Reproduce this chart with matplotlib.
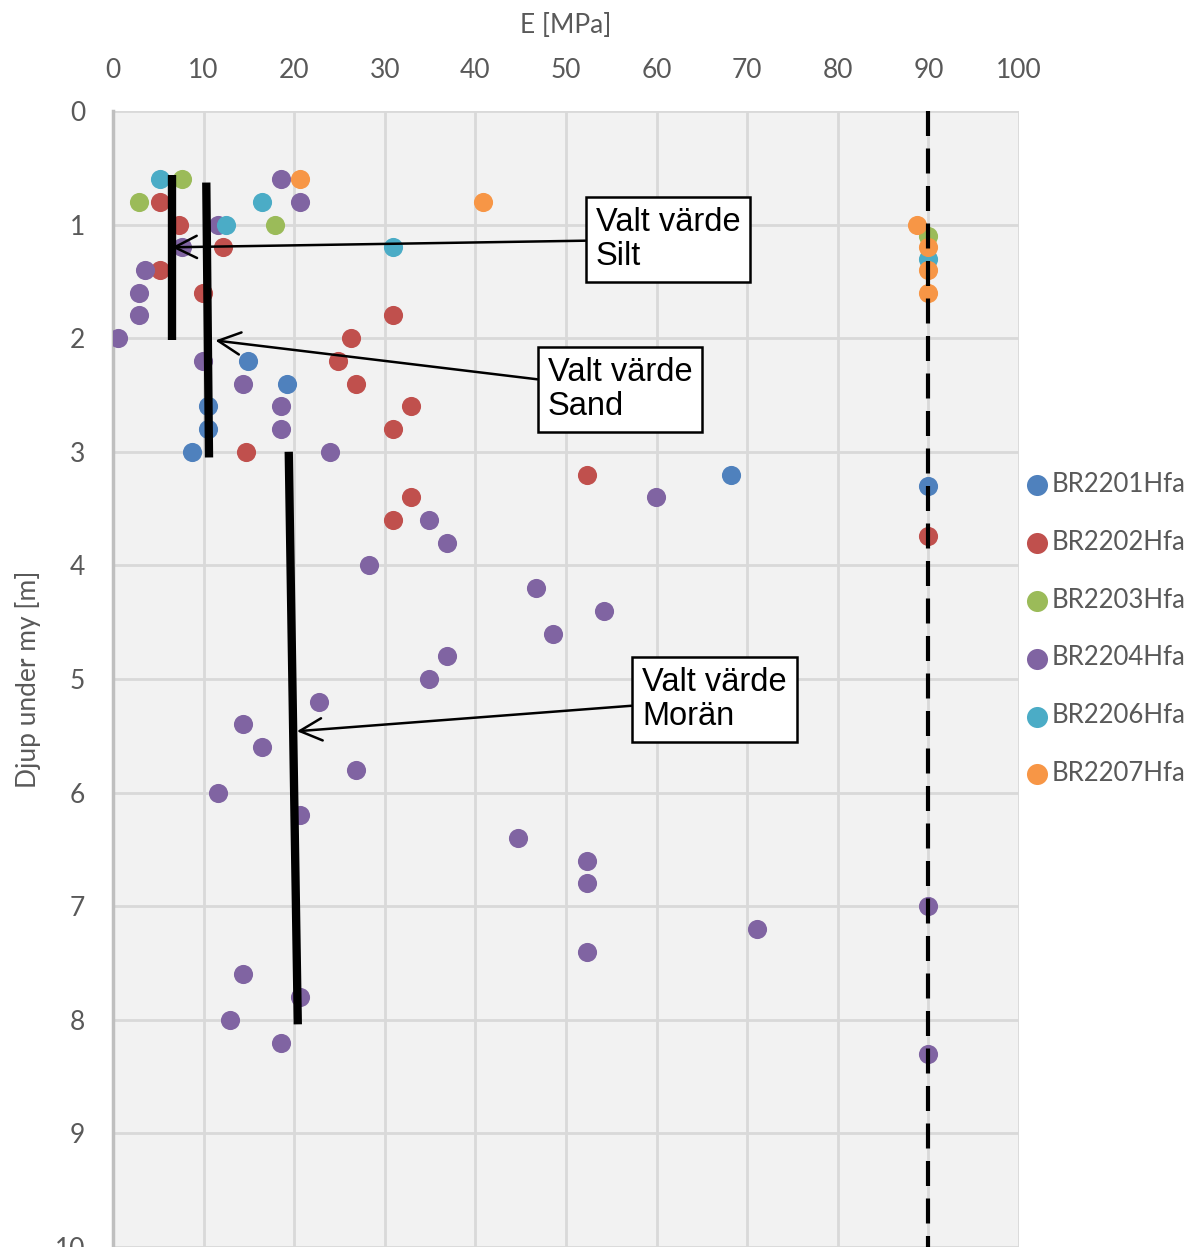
import matplotlib
matplotlib.use('Agg')
import matplotlib.pyplot as plt

plt.rcParams['font.family'] = ['Lato', 'DejaVu Sans']

# E [MPa] and depth [m] per borehole
br01_e = [14.9, 19.2, 10.5, 10.5, 8.7, 68.2, 90]
br01_d = [2.2, 2.4, 2.6, 2.8, 3.0, 3.2, 3.3]
br02_e = [5.2, 7.3, 12.1, 5.2, 9.9, 30.9, 26.3, 24.8, 26.8, 32.9, 30.9, 14.7, 52.3, 32.9, 30.9, 90]
br02_d = [0.8, 1.0, 1.2, 1.4, 1.6, 1.8, 2.0, 2.2, 2.4, 2.6, 2.8, 3.0, 3.2, 3.4, 3.6, 3.74]
br03_e = [7.6, 2.9, 17.9, 90]
br03_d = [0.6, 0.8, 1.0, 1.1]
br04_e = [18.5, 20.6, 11.6, 7.6, 3.5, 2.9, 2.9, 0.6, 9.9, 14.3, 18.5, 18.5, 24.0,
          59.9, 34.9, 36.9, 28.3, 46.7, 54.2, 48.6, 36.9, 34.9, 22.7, 14.3, 16.4,
          26.8, 11.6, 20.6, 44.7, 52.3, 52.3, 90, 71.1, 52.3, 14.3, 20.6, 12.9, 18.5, 90]
br04_d = [0.6, 0.8, 1.0, 1.2, 1.4, 1.6, 1.8, 2.0, 2.2, 2.4, 2.6, 2.8, 3.0,
          3.4, 3.6, 3.8, 4.0, 4.2, 4.4, 4.6, 4.8, 5.0, 5.2, 5.4, 5.6,
          5.8, 6.0, 6.2, 6.4, 6.6, 6.8, 7.0, 7.2, 7.4, 7.6, 7.8, 8.0, 8.2, 8.3]
br06_e = [5.2, 16.4, 12.5, 30.9, 90]
br06_d = [0.6, 0.8, 1.0, 1.2, 1.3]
br07_e = [20.6, 40.8, 88.7, 90, 90, 90]
br07_d = [0.6, 0.8, 1.0, 1.2, 1.4, 1.6]

# chosen values (lines drawn by hand in the original)
silt_e = [6.5, 6.5]
silt_d = [0.56, 2.02]
sand_e = [10.3, 10.6]
sand_d = [0.63, 3.05]
moran_e = [19.4, 20.4]
moran_d = [3.0, 8.04]

series = [
    ('BR2201Hfa', br01_e, br01_d, '#4F81BD'),
    ('BR2202Hfa', br02_e, br02_d, '#C0504D'),
    ('BR2203Hfa', br03_e, br03_d, '#9BBB59'),
    ('BR2204Hfa', br04_e, br04_d, '#8064A2'),
    ('BR2206Hfa', br06_e, br06_d, '#4BACC6'),
    ('BR2207Hfa', br07_e, br07_d, '#F79646'),
]

fig = plt.figure(figsize=(12.03, 12.47), dpi=100)
ax = fig.add_axes([0.0939, 0.0, 0.7532, 0.911])
ax.set_facecolor('#F2F2F2')

ax.set_xlim(0, 100)
ax.set_ylim(10, 0)
ax.set_xticks(range(0, 101, 10))
ax.set_yticks(range(0, 11))
ax.xaxis.tick_top()
ax.xaxis.set_label_position('top')
ax.grid(True, color='#D9D9D9', lw=2)
ax.set_axisbelow(True)
for s in ['top', 'right', 'bottom']:
    ax.spines[s].set_visible(False)
ax.spines['left'].set_color('#BFBFBF')
ax.spines['left'].set_linewidth(2.5)
ax.tick_params(length=0, labelsize=19, colors='#595959')
ax.tick_params(axis='x', pad=20)
ax.tick_params(axis='y', pad=20)
ax.set_xlabel('E [MPa]', fontsize=19, color='#595959', labelpad=18)
ax.set_ylabel('Djup under my [m]', fontsize=19, color='#595959', labelpad=10)

for name, e, d, c in series:
    ax.scatter(e, d, s=190, color=c, linewidths=0, label=name, zorder=3)

ax.plot([90, 90], [0, 10], color='black', lw=3, ls=(0, (6, 3)), zorder=4)
ax.plot(silt_e, silt_d, color='black', lw=6, zorder=4, solid_capstyle='butt')
ax.plot(sand_e, sand_d, color='black', lw=6, zorder=4, solid_capstyle='butt')
ax.plot(moran_e, moran_d, color='black', lw=6, zorder=4, solid_capstyle='butt')

box = dict(boxstyle='square,pad=0.3', fc='white', ec='black', lw=1.8)
arrow = dict(arrowstyle='->', color='black', lw=1.8, mutation_scale=40,
             shrinkA=0, shrinkB=0)
ax.annotate('Valt värde\nSilt', xy=(6.5, 1.2), xytext=(53.3, 1.13),
            fontsize=23.5, family='Liberation Sans', va='center', ha='left',
            bbox=box, arrowprops=arrow, zorder=5, linespacing=1.15)
ax.annotate('Valt värde\nSand', xy=(11.3, 2.02), xytext=(48.0, 2.45),
            fontsize=23.5, family='Liberation Sans', va='center', ha='left',
            bbox=box, arrowprops=arrow, zorder=5, linespacing=1.15)
ax.annotate('Valt värde\nMorän', xy=(20.3, 5.46), xytext=(58.4, 5.18),
            fontsize=23.5, family='Liberation Sans', va='center', ha='left',
            bbox=box, arrowprops=arrow, zorder=5, linespacing=1.15)

fig.legend(loc='center left', bbox_to_anchor=(0.843, 0.4956), frameon=False,
           fontsize=18.5, labelcolor='#595959', handletextpad=0.05,
           labelspacing=1.28, handlelength=1.0, borderaxespad=0,
           markerscale=1.1)

fig.savefig('out.png', dpi=100)
